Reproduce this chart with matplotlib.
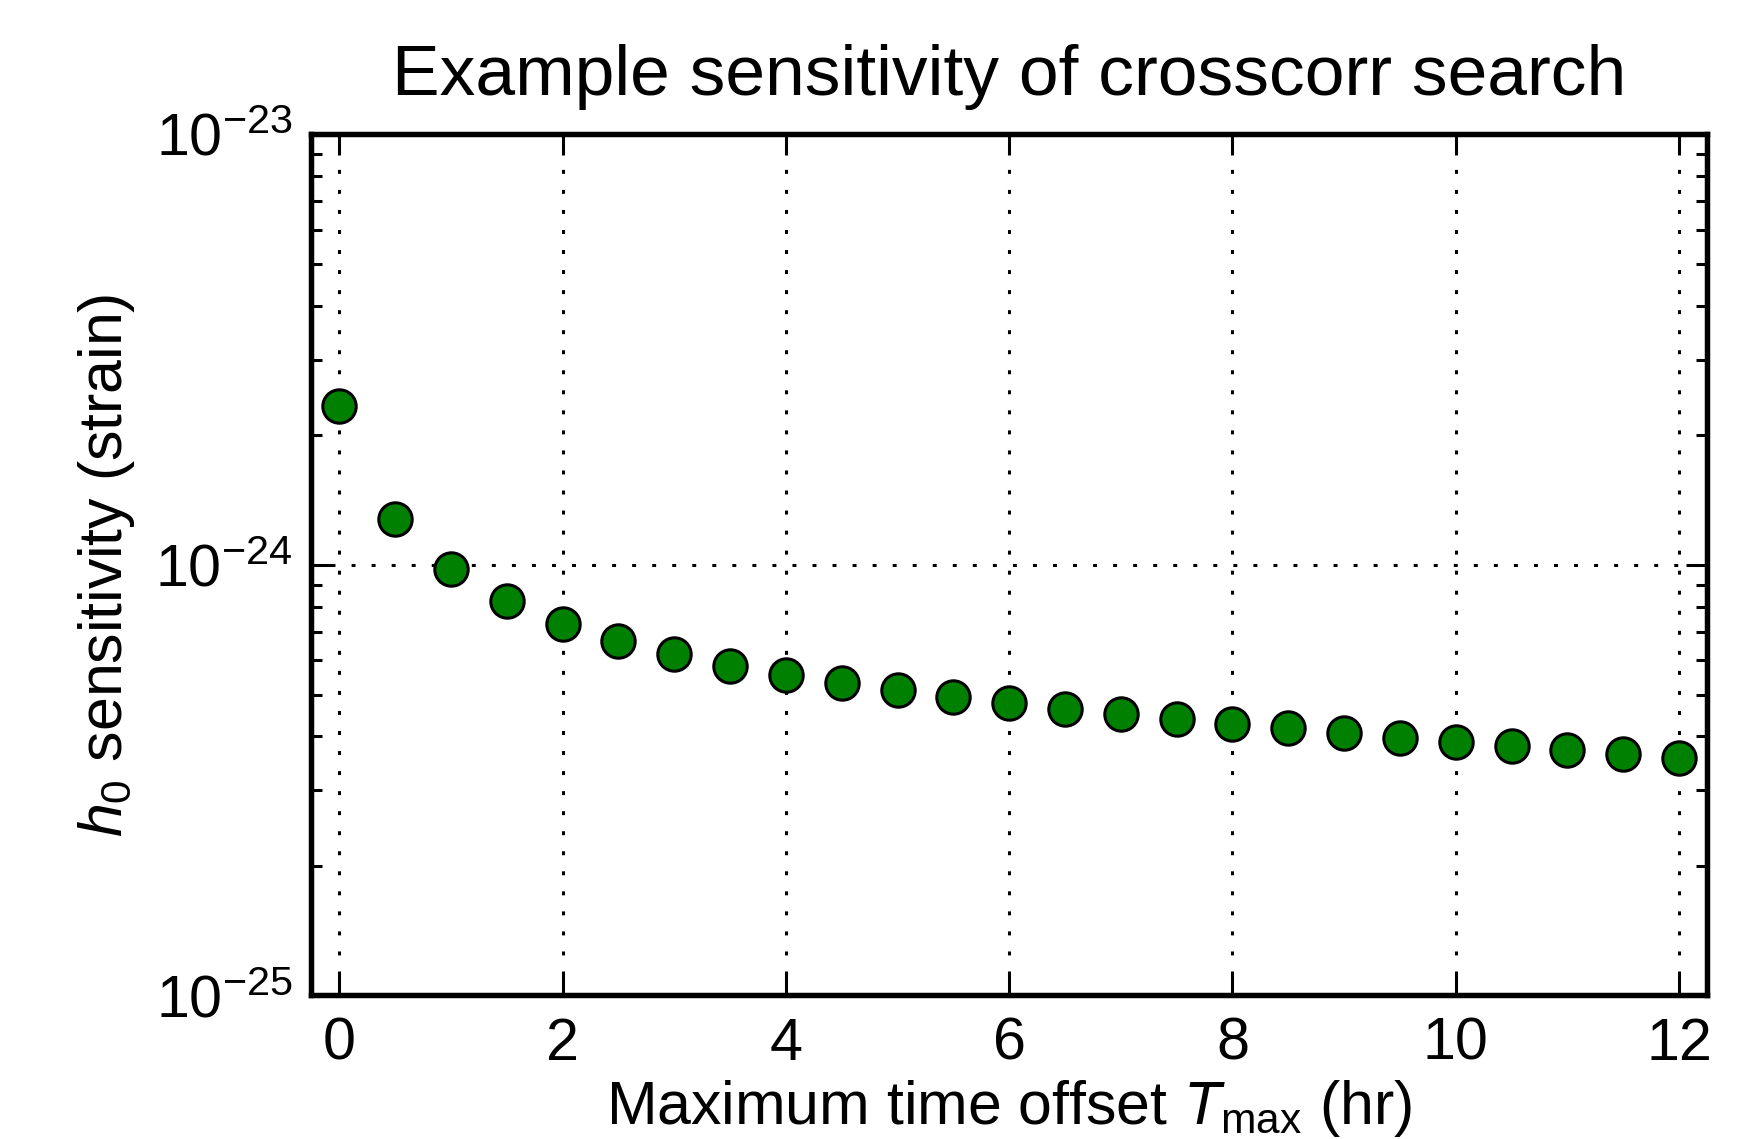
import matplotlib
matplotlib.use("Agg")
import matplotlib.pyplot as plt
from matplotlib import font_manager

# data
t_max_hr = [0.0, 0.5, 1.0, 1.5, 2.0, 2.5, 3.0, 3.5, 4.0, 4.5, 5.0, 5.5, 6.0,
            6.5, 7.0, 7.5, 8.0, 8.5, 9.0, 9.5, 10.0, 10.5, 11.0, 11.5, 12.0]
h0_sens = [2.34e-24, 1.28e-24, 0.978e-24, 0.826e-24, 0.731e-24, 0.667e-24,
           0.620e-24, 0.583e-24, 0.555e-24, 0.531e-24, 0.511e-24, 0.493e-24,
           0.478e-24, 0.463e-24, 0.450e-24, 0.438e-24, 0.427e-24, 0.417e-24,
           0.406e-24, 0.397e-24, 0.388e-24, 0.379e-24, 0.371e-24, 0.363e-24,
           0.357e-24]
x_ticks = [0, 2, 4, 6, 8, 10, 12]

names = {f.name for f in font_manager.fontManager.ttflist}
family = "Liberation Sans Narrow" if "Liberation Sans Narrow" in names else "Liberation Sans"

plt.rcParams["font.family"] = [family, "DejaVu Sans"]
plt.rcParams["mathtext.fontset"] = "custom"
plt.rcParams["mathtext.rm"] = family
plt.rcParams["mathtext.it"] = family + ":italic"
plt.rcParams["mathtext.bf"] = family + ":bold"
plt.rcParams["lines.scale_dashes"] = False

dpi = 218.625
fig = plt.figure(figsize=(1749 / dpi, 1139 / dpi), dpi=dpi)
ax = fig.add_axes([0.178, 0.126, 0.798, 0.756])

ax.plot(t_max_hr, h0_sens, "o", color=(0, 0.5, 0), markersize=11,
        markeredgecolor="black", markeredgewidth=1.0, linestyle="none", zorder=3)

ax.set_yscale("log")
ax.set_ylim(1e-25, 1e-23)
ax.set_xlim(-0.25, 12.25)
ax.set_xticks(x_ticks)

ax.grid(True, which="major", color="black", linestyle=(0, (1.3, 5.3)), linewidth=1.0)

for side in ax.spines.values():
    side.set_linewidth(1.8)

ax.tick_params(which="both", direction="in", top=True, right=True, labelsize=19.5, width=1.0)
ax.tick_params(which="major", length=7)
ax.tick_params(which="minor", length=3.5)
ax.tick_params(axis="x", pad=7)
ax.tick_params(axis="y", pad=6)

ax.set_title("Example sensitivity of crosscorr search", fontsize=23.5, pad=13)
ax.set_xlabel(r"Maximum time offset $T_{\rm max}$ (hr)", fontsize=20, labelpad=2)
ax.set_ylabel(r"$h_0$ sensitivity (strain)", fontsize=20, labelpad=6)

fig.savefig("out.png", dpi=dpi, facecolor="white")
plt.close(fig)
